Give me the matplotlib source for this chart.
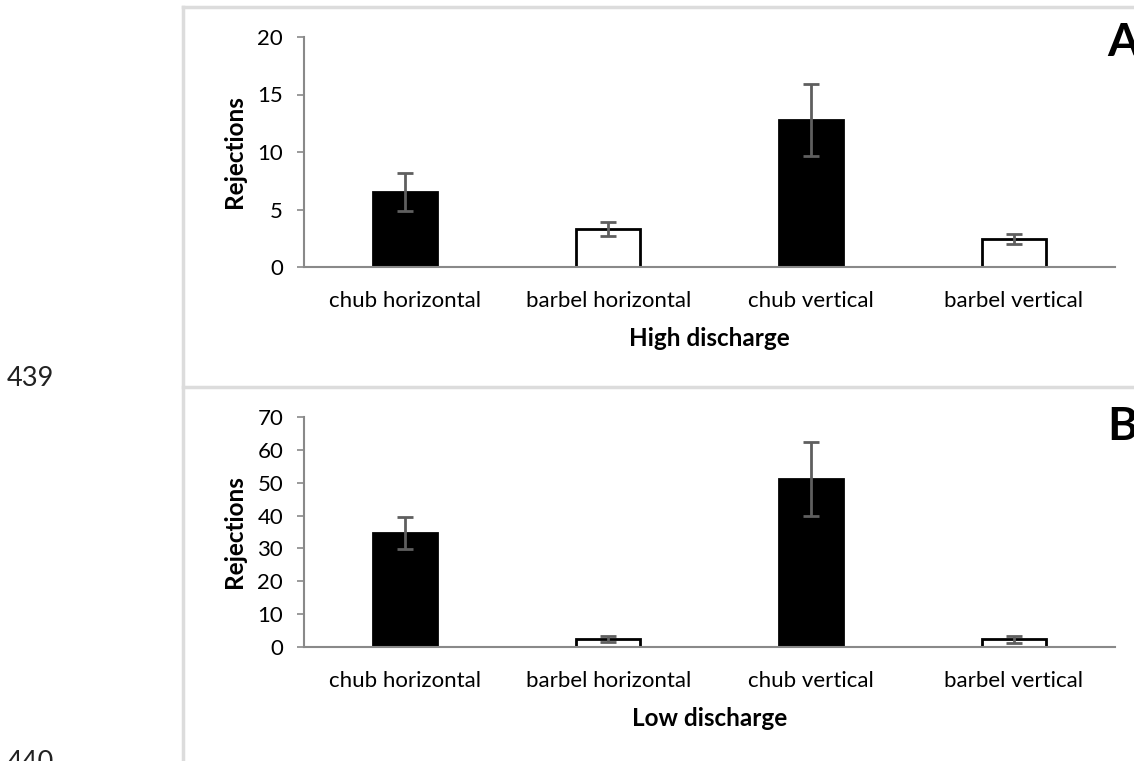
import matplotlib
matplotlib.use("Agg")
import matplotlib.pyplot as plt
from matplotlib.lines import Line2D

plt.rcParams['font.family'] = ['Lato', 'DejaVu Sans']

categories = ["chub horizontal", "barbel horizontal", "chub vertical", "barbel vertical"]

high_mean = [6.5, 3.3, 12.8, 2.4]
high_err = [1.65, 0.58, 3.15, 0.44]

low_mean = [34.7, 2.35, 51.1, 2.4]
low_err = [4.9, 0.85, 11.3, 1.05]

high_ticks = [0, 5, 10, 15, 20]
low_ticks = [0, 10, 20, 30, 40, 50, 60, 70]

W, H = 1134, 761
fig = plt.figure(figsize=(W / 100, H / 100), dpi=100)
fig.patch.set_facecolor("white")


def fx(px):
    return px / W


def fy(py):
    return 1 - py / H


frame_col = "#dcdcdc"
axis_col = "#898989"
err_col = "#5f5f5f"
fills = ["black", "white", "black", "white"]

# page frame lines around the two panels
for xs, ys in [((183, W), (7, 7)), ((183, 183), (7, H)), ((183, W), (387, 387))]:
    fig.add_artist(Line2D([fx(x) for x in xs], [fy(y) for y in ys],
                          color=frame_col, lw=2.5, transform=fig.transFigure))

# line numbers in the margin
fig.text(fx(7), fy(379), "439", fontsize=19.5, ha="left", va="center", color="#222222")
fig.text(fx(7), fy(763), "440", fontsize=19.5, ha="left", va="center", color="#222222")


def panel(top_px, bottom_px, means, errs, ticks, ymax, xlabel, letter, letter_y):
    ax = fig.add_axes([fx(304), fy(bottom_px), fx(1115) - fx(304),
                       fy(top_px) - fy(bottom_px)])
    x = list(range(len(categories)))
    ax.bar(x, means, width=0.315, color=fills, edgecolor="black", linewidth=2,
           zorder=2)
    ax.errorbar(x, means, yerr=errs, fmt="none", ecolor=err_col, elinewidth=2,
                capsize=6, capthick=2, zorder=3)
    ax.set_xlim(-0.5, len(categories) - 0.5)
    ax.set_ylim(0, ymax)
    ax.set_yticks(ticks)
    ax.set_xticks(x)
    ax.set_xticklabels(categories, fontsize=16)
    ax.tick_params(axis="x", length=0, pad=17)
    ax.tick_params(axis="y", length=5, width=1.2, color=axis_col, pad=10,
                   labelsize=16)
    for s in ["top", "right"]:
        ax.spines[s].set_visible(False)
    for s in ["left", "bottom"]:
        ax.spines[s].set_color(axis_col)
        ax.spines[s].set_linewidth(1.5)
        ax.spines[s].set_zorder(4)
    ax.set_ylabel("Rejections", fontsize=17.5, fontweight="bold")
    ax.yaxis.set_label_coords(-0.072, 0.5)
    fig.text(fx(709.5), fy(bottom_px + 71), xlabel, fontsize=17.5,
             fontweight="bold", ha="center", va="center")
    fig.text(fx(1107), fy(letter_y), letter, fontsize=33, fontweight="bold",
             ha="left", va="center")
    return ax


panel(37, 267, high_mean, high_err, high_ticks, 20, "High discharge", "A", 43)
panel(417, 647, low_mean, low_err, low_ticks, 70, "Low discharge", "B", 427)

fig.savefig("out.png", dpi=100, facecolor="white")
